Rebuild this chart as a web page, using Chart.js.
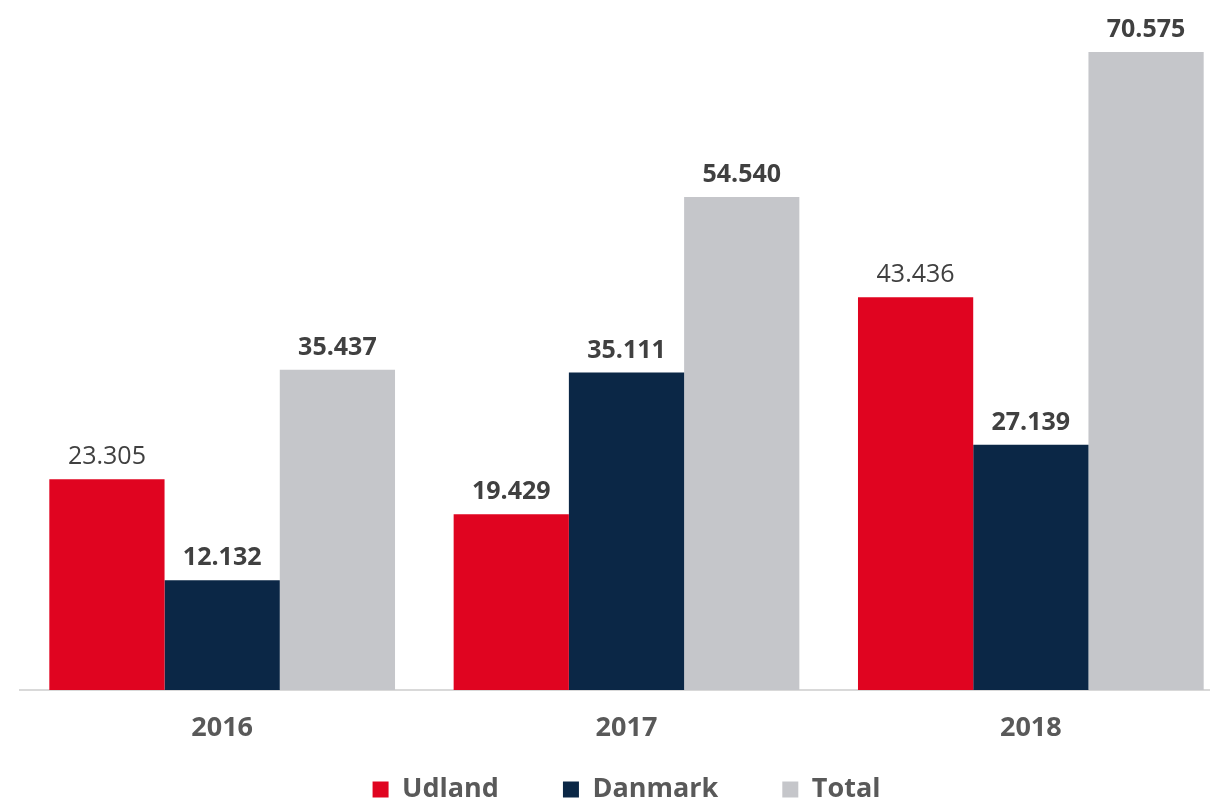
<!DOCTYPE html>
<html>
<head>
<meta charset="utf-8">
<script src="https://cdn.jsdelivr.net/npm/chart.js@4/dist/chart.umd.min.js"></script>
<style>
    html, body { margin: 0; padding: 0; background: #fff; overflow: hidden; }
    #wrap { width: 1210px; height: 805px; overflow: hidden; }
    #box { width: 1240px; height: 813px; }
</style>
</head>
<body>
<div id="wrap"><div id="box"><canvas id="myChart"></canvas></div></div>
<script>
const years = ["2016", "2017", "2018"];
const udland = [23305, 19429, 43436];
const danmark = [12132, 35111, 27139];
const total = [35437, 54540, 70575];

// which value labels are bold (per dataset, per year)
const boldLabels = [
    [false, true, false],
    [true, true, true],
    [true, true, true]
];

const fontName = "'Open Sans', 'DejaVu Sans', sans-serif";

// value above each bar
const valueLabels = {
    id: "valueLabels",
    afterDatasetsDraw(chart) {
        const c = chart.ctx;
        c.save();
        c.fillStyle = "#404040";
        c.textAlign = "center";
        c.textBaseline = "alphabetic";
        chart.data.datasets.forEach((ds, i) => {
            const meta = chart.getDatasetMeta(i);
            meta.data.forEach((bar, j) => {
                const w = boldLabels[i][j] ? "bold" : "normal";
                c.font = w + " 25px " + fontName;
                const txt = ds.data[j].toLocaleString("da-DK");
                c.fillText(txt, bar.x, bar.y - 15);
            });
        });
        c.restore();
    }
};

// year labels under the axis (drawn here so they can sit over the legend's top padding)
const yearLabels = {
    id: "yearLabels",
    afterDraw(chart) {
        const c = chart.ctx;
        const xs = chart.scales.x;
        c.save();
        c.fillStyle = "#595959";
        c.textAlign = "center";
        c.textBaseline = "middle";
        c.font = "bold 27px " + fontName;
        chart.data.labels.forEach((lbl, i) => {
            c.fillText(lbl, xs.getPixelForTick(i), chart.chartArea.bottom + 38);
        });
        c.restore();
    }
};

const ctx = document.getElementById("myChart");

new Chart(ctx, {
    type: "bar",
    data: {
        labels: years,
        datasets: [{
            label: "Udland",
            backgroundColor: "#E00420",
            data: udland
        }, {
            label: "Danmark",
            backgroundColor: "#0B2746",
            data: danmark
        }, {
            label: "Total",
            backgroundColor: "#C5C6CA",
            data: total
        }]
    },
    options: {
        responsive: true,
        maintainAspectRatio: false,
        animation: false,
        layout: {padding: {top: 12, left: 20, right: 7, bottom: 0}},
        datasets: {
            bar: {categoryPercentage: 0.855, barPercentage: 1.0, borderWidth: 0}
        },
        scales: {
            x: {
                grid: {display: false},
                border: {display: true, color: "#D9D9D9", width: 2},
                ticks: {display: false},
                afterFit(scale) { scale.height = 22; }
            },
            y: {
                display: false,
                min: 0,
                max: 75000
            }
        },
        plugins: {
            legend: {
                position: "bottom",
                labels: {
                    color: "#595959",
                    boxWidth: 16,
                    boxHeight: 16,
                    padding: 64,
                    font: {family: fontName, size: 27, weight: "bold"}
                }
            },
            tooltip: {enabled: false}
        }
    },
    plugins: [valueLabels, yearLabels]
});
</script>
</body>
</html>
